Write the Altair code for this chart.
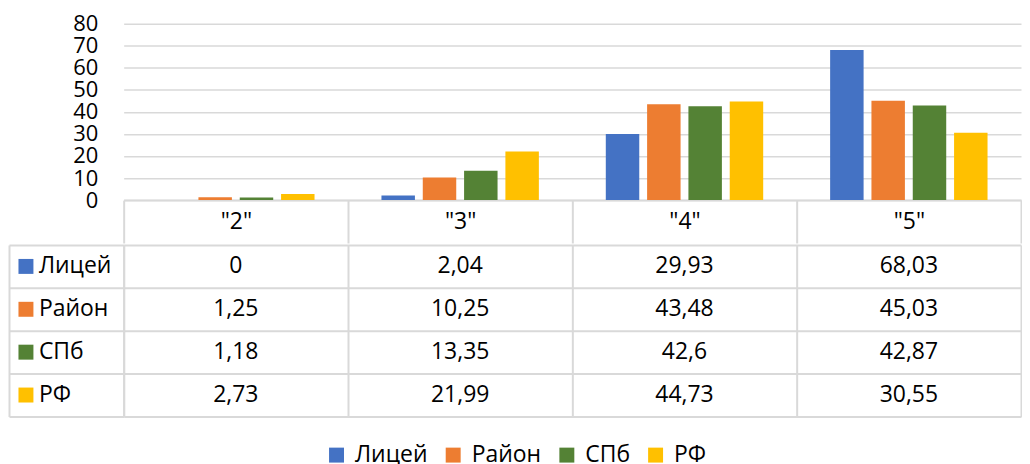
import altair as alt
import pandas as pd

categories = ['"2"', '"3"', '"4"', '"5"']
series = ["Лицей", "Район", "СПб", "РФ"]
litsey = [0, 2.04, 29.93, 68.03]
rayon = [1.25, 10.25, 43.48, 45.03]
spb = [1.18, 13.35, 42.6, 42.87]
rf = [2.73, 21.99, 44.73, 30.55]
colors = ["#4472C4", "#ED7D31", "#548235", "#FFC000"]
y_ticks = [0, 10, 20, 30, 40, 50, 60, 70, 80]

rows = []
for s, vals in zip(series, [litsey, rayon, spb, rf]):
    for c, v in zip(categories, vals):
        rows.append({"series": s, "category": c, "value": v})
df = pd.DataFrame(rows)
series_df = pd.DataFrame({"series": series})

FONT = "Open Sans"
FS = 23
GRID = "#d9d9d9"
W = 900

color_enc = alt.Color(
    "series:N", sort=series,
    scale=alt.Scale(domain=series, range=colors),
    legend=alt.Legend(
        title=None, orient="none", legendX=202, legendY=421, direction="horizontal",
        symbolType="square", symbolSize=225, symbolStrokeWidth=0,
        labelFont=FONT, labelFontSize=FS, labelColor="black",
        labelOffset=7, columnPadding=14,
    ),
)

bars = alt.Chart(df).mark_bar().encode(
    x=alt.X(
        "category:N", sort=categories,
        scale=alt.Scale(paddingInner=0, paddingOuter=0),
        axis=alt.Axis(
            title=None, labelAngle=0, tickBand="extent", tickSize=43,
            tickColor=GRID, tickWidth=2, domainColor=GRID, domainWidth=2,
            labelFont=FONT, labelFontSize=FS, labelColor="black",
            labelBaseline="middle", labelPadding=-22, grid=False,
        ),
    ),
    xOffset=alt.XOffset("series:N", sort=series,
                        scale=alt.Scale(paddingInner=0.19, paddingOuter=0.81)),
    y=alt.Y(
        "value:Q", scale=alt.Scale(domain=[0, 80], nice=False),
        axis=alt.Axis(
            title=None, values=y_ticks, domain=False, ticks=False,
            labelPadding=26, gridColor=GRID, gridWidth=1.5, labelOverlap=False,
            labelFont=FONT, labelFontSize=22, labelColor="black",
        ),
    ),
    color=color_enc,
).properties(width=W, height=177)

y_tab = alt.Y(
    "series:N", sort=series,
    scale=alt.Scale(paddingInner=0, paddingOuter=0),
    axis=alt.Axis(
        title=None, orient="left", labels=False, tickBand="extent", tickSize=115,
        tickColor=GRID, tickWidth=2, domainColor=GRID, domainWidth=2,
        grid=True, gridColor=GRID, gridWidth=2,
    ),
)
x_tab = alt.X(
    "category:N", sort=categories,
    scale=alt.Scale(paddingInner=0, paddingOuter=0),
    axis=alt.Axis(
        title=None, labels=False, ticks=False, domain=False, grid=True,
        tickBand="extent", gridColor=GRID, gridWidth=2,
    ),
)

values_layer = alt.Chart(df).transform_calculate(
    label="replace(toString(datum.value), '.', ',')"
).mark_text(font=FONT, fontSize=FS, color="black", baseline="middle").encode(
    x=x_tab, y=y_tab, text="label:N"
)

names_layer = alt.Chart(series_df).mark_text(
    align="left", baseline="middle", font=FONT, fontSize=FS, color="black", dx=-85
).encode(
    x=alt.value(0),
    y=alt.Y("series:N", sort=series,
            axis=alt.Axis(title=None, orient="left", labels=False, ticks=False,
                          domain=True, domainColor=GRID, domainWidth=2,
                          offset=115, grid=False)),
    text="series:N",
)

squares = alt.Chart(series_df).mark_square(size=225, opacity=1, xOffset=-98).encode(
    x=alt.value(0),
    y=alt.Y("series:N", sort=series, axis=None),
    color=color_enc,
)

table = alt.layer(values_layer, names_layer, squares).resolve_axis(
    y="independent"
).properties(width=W, height=172)

chart = alt.vconcat(
    bars, table, spacing=0,
    padding={"left": 0, "top": 4, "right": 0, "bottom": 0},
).resolve_scale(color="shared").configure_view(stroke=None)

chart.save("out.html", embed_options={"renderer": "svg", "actions": False})
